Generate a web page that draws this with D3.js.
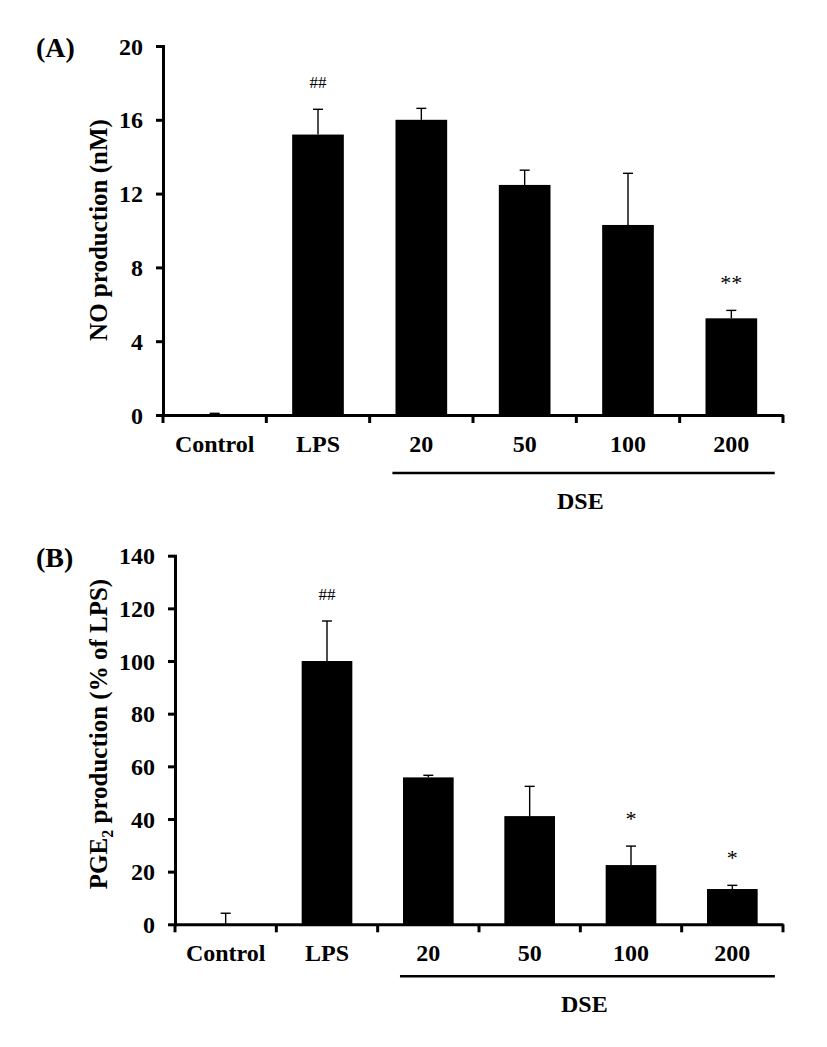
<!DOCTYPE html>
<html>
<head>
<meta charset="utf-8">
<script src="https://cdn.jsdelivr.net/npm/d3@7"></script>
<style>
  html, body { margin: 0; padding: 0; background: #fff; }
  svg { display: block; }
  text { font-family: "Liberation Serif", "Times New Roman", serif; fill: #000; }
</style>
</head>
<body>
<svg id="chart" width="827" height="1047"></svg>
<script>
// ---- data ----
const categories = ["Control", "LPS", "20", "50", "100", "200"];
const groupLabel = "DSE";

const noValues = [0.03, 15.2, 16.0, 12.47, 10.3, 5.24];
const noErrors = [0.06, 1.37, 0.62, 0.8, 2.8, 0.43];
const noMarks  = ["", "##", "", "", "", "**"];
const noTicks  = [0, 4, 8, 12, 16, 20];

const pgeValues = [0, 100, 55.8, 41.1, 22.5, 13.4];
const pgeErrors = [4.2, 15.2, 0.8, 11.3, 7.2, 1.4];
const pgeMarks  = ["", "##", "", "", "*", "*"];
const pgeTicks  = [0, 20, 40, 60, 80, 100, 120, 140];

const svg = d3.select("#chart");

function panel(cfg) {
  const g = svg.append("g");
  const x = d3.scaleBand().domain(categories).range([cfg.x0, cfg.x1]).paddingInner(0).paddingOuter(0);
  const y = d3.scaleLinear().domain([0, cfg.max]).range([cfg.y0, cfg.y1]);
  const bw = x.bandwidth() * 0.5;
  const cx = c => x(c) + x.bandwidth() / 2;

  const data = categories.map((c, i) => ({ c, v: cfg.values[i], e: cfg.errors[i], m: cfg.marks[i] }));

  // error bars (upper only)
  const eb = g.append("g").attr("stroke", "#000").attr("stroke-width", 1.4);
  data.forEach(d => {
    eb.append("line").attr("x1", cx(d.c)).attr("x2", cx(d.c)).attr("y1", y(d.v)).attr("y2", y(d.v + d.e));
    eb.append("line").attr("x1", cx(d.c) - 5).attr("x2", cx(d.c) + 5).attr("y1", y(d.v + d.e)).attr("y2", y(d.v + d.e));
  });

  // bars
  g.append("g").selectAll("rect").data(data).join("rect")
    .attr("x", d => cx(d.c) - bw / 2)
    .attr("width", bw)
    .attr("y", d => y(d.v))
    .attr("height", d => y(0) - y(d.v))
    .attr("fill", "#000");

  // significance marks
  g.append("g").selectAll("text").data(data.filter(d => d.m)).join("text")
    .attr("x", d => cx(d.c))
    .attr("y", d => y(d.v + d.e) - (d.m.startsWith("*") ? 20 : 21))
    .attr("text-anchor", "middle")
    .attr("font-size", d => d.m.startsWith("*") ? 22 : 17)
    .text(d => d.m);

  // y axis
  const ya = g.append("g").attr("transform", `translate(${cfg.x0},0)`)
    .call(d3.axisLeft(y).tickValues(cfg.ticks).tickSize(7).tickSizeOuter(0).tickPadding(13).tickFormat(d3.format("d")));
  ya.select(".domain").attr("stroke-width", 3).attr("stroke-linecap", "square");
  ya.selectAll(".tick line").attr("stroke-width", 3);
  ya.selectAll(".tick text").attr("font-size", 24).attr("font-weight", "bold")
    .attr("font-family", "Liberation Serif, Times New Roman, serif").attr("dy", "0.34em");

  // x axis (labels at centres, ticks at band boundaries)
  const xa = g.append("g").attr("transform", `translate(0,${cfg.y0})`)
    .call(d3.axisBottom(x).tickSize(0).tickPadding(20));
  xa.select(".domain").attr("stroke-width", 3);
  xa.selectAll(".tick text").attr("font-size", 24).attr("font-weight", "bold")
    .attr("font-family", "Liberation Serif, Times New Roman, serif");
  const bounds = categories.map(c => x(c)).concat([x(categories[categories.length - 1]) + x.bandwidth()]);
  xa.append("g").selectAll("line").data(bounds).join("line")
    .attr("x1", d => d).attr("x2", d => d).attr("y1", 0).attr("y2", 8)
    .attr("stroke", "#000").attr("stroke-width", 3);

  // group bracket
  const gx0 = x("20") + x.bandwidth() * 0.22;
  const gx1 = x("200") + x.bandwidth() * 0.92;
  g.append("line").attr("x1", gx0).attr("x2", gx1)
    .attr("y1", cfg.y0 + cfg.lineDy).attr("y2", cfg.y0 + cfg.lineDy)
    .attr("stroke", "#000").attr("stroke-width", 2.6);
  g.append("text").attr("x", (x("20") + x("200") + x.bandwidth()) / 2 + 4)
    .attr("y", cfg.y0 + cfg.lineDy + 36)
    .attr("text-anchor", "middle").attr("font-size", 24).attr("font-weight", "bold")
    .text(groupLabel);

  // panel letter
  g.append("text").attr("x", 36).attr("y", cfg.y1 + 11)
    .attr("font-size", 28).attr("font-weight", "bold").text(cfg.letter);

  // y title
  const t = g.append("text")
    .attr("transform", `translate(107,${cfg.titleY}) rotate(-90)`)
    .attr("text-anchor", "middle").attr("font-size", 25).attr("font-weight", "bold");
  cfg.title.forEach(p => {
    const ts = t.append("tspan").text(p.t);
    if (p.sub) ts.attr("font-size", 16).attr("dy", 6);
    if (p.after) ts.attr("dy", -6);
  });
}

panel({
  x0: 163, x1: 783, y0: 415, y1: 46, max: 20,
  values: noValues, errors: noErrors, marks: noMarks, ticks: noTicks,
  lineDy: 58, letter: "(A)", titleY: 230,
  title: [{ t: "NO production (nM)" }]
});

panel({
  x0: 175, x1: 783, y0: 924.3, y1: 555.7, max: 140,
  values: pgeValues, errors: pgeErrors, marks: pgeMarks, ticks: pgeTicks,
  lineDy: 52, letter: "(B)", titleY: 734,
  title: [{ t: "PGE" }, { t: "2", sub: true }, { t: " production (% of LPS)", after: true }]
});
</script>
</body>
</html>
